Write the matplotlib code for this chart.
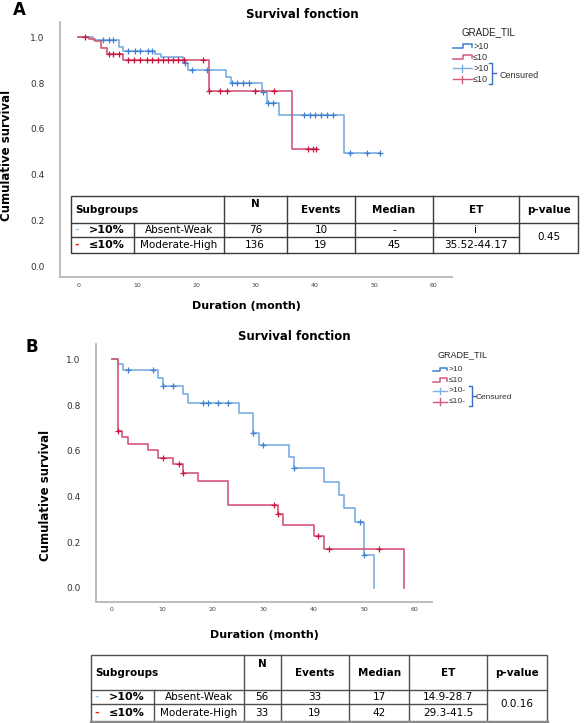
import matplotlib
matplotlib.use("Agg")
import matplotlib.pyplot as plt
from matplotlib.lines import Line2D
import numpy as np

plt.rcParams['font.family'] = ['DejaVu Sans']

# ---------------- data ----------------
# Panel A : step times (months) and survival after each step
a_hi_t = [0, 2.5, 6.9, 7.6, 13.0, 13.9, 17.7, 18.6, 25.0, 25.9, 31.0, 31.9, 33.9, 44.9, 51.0]
a_hi_s = [1.0, 0.99, 0.956, 0.942, 0.928, 0.913, 0.888, 0.858, 0.828, 0.799, 0.759, 0.714, 0.66, 0.496, 0.496]
a_hi_c = [4.2, 5.2, 5.9, 8.4, 9.6, 10.5, 11.7, 12.4, 18.0, 19.2, 21.7, 26.0, 26.9, 27.9, 28.9,
          31.3, 32.1, 33.0, 38.1, 39.1, 40.0, 41.0, 42.0, 43.0, 46.0, 48.9, 51.0]
a_lo_t = [0, 1.8, 2.8, 3.9, 4.8, 7.6, 22.1, 36.1, 40.3]
a_lo_s = [1.0, 0.993, 0.983, 0.953, 0.927, 0.902, 0.765, 0.512, 0.512]
a_lo_c = [1.1, 5.2, 5.9, 6.9, 8.4, 9.5, 10.5, 11.6, 12.4, 13.4, 14.4, 15.2, 16.0, 16.9, 17.8, 21.1,
          22.1, 24.0, 25.1, 29.9, 33.1, 38.9, 39.7, 40.2]

# Panel B
b_hi_t = [0, 1.25, 2.1, 9.1, 10.1, 14.1, 15.1, 25.1, 28.0, 29.2, 35.1, 36.0, 42.1, 45.0, 46.0, 48.1, 50.0, 52.0]
b_hi_s = [1.0, 0.98, 0.952, 0.919, 0.882, 0.847, 0.81, 0.766, 0.677, 0.626, 0.575, 0.523, 0.464, 0.406,
          0.348, 0.29, 0.144, 0.0]
b_hi_c = [3.1, 8.1, 10.1, 12.0, 18.0, 19.0, 21.0, 23.1, 28.0, 30.0, 36.0, 49.1, 50.0]
b_lo_t = [0, 1.1, 1.9, 3.1, 7.1, 9.1, 12.0, 14.1, 17.0, 23.1, 33.0, 34.0, 40.1, 42.1, 57.9]
b_lo_s = [1.0, 0.686, 0.66, 0.628, 0.603, 0.57, 0.541, 0.505, 0.468, 0.362, 0.322, 0.275, 0.228, 0.172, 0.0]
b_lo_c = [1.1, 10.1, 13.2, 14.1, 32.1, 33.0, 40.9, 43.1, 53.0]

y_ticks = [0.0, 0.2, 0.4, 0.6, 0.8, 1.0]
x_ticks = [0, 10, 20, 30, 40, 50, 60]

table_header = ["Subgroups", "N", "Events", "Median", "ET", "p-value"]
groups = [">10%", "≤10%"]
group_desc = ["Absent-Weak", "Moderate-High"]
tabA_N = ["76", "136"]
tabA_events = ["10", "19"]
tabA_median = ["-", "45"]
tabA_et = ["i", "35.52-44.17"]
tabA_p = "0.45"
tabB_N = ["56", "33"]
tabB_events = ["33", "19"]
tabB_median = ["17", "42"]
tabB_et = ["14.9-28.7", "29.3-41.5"]
tabB_p = "0.0.16"

legend_labels_A = [">10", "≤10", ">10", "≤10"]
legend_labels_B = [">10", "≤10", ">10-", "≤10-"]

# ---------------- style ----------------
W, H = 585, 723
fig = plt.figure(figsize=(5.85, 7.23), dpi=100)

def fx(px):
    return px / W

def fy(py):
    return 1 - py / H

BLUE = '#7aaee3'
BLUE_M = '#3f7fd0'
RED = '#d4577a'
RED_M = '#c8163f'
SPINE = '#b8b8b8'

def level_at(t, s, c):
    t = np.asarray(t); s = np.asarray(s)
    idx = np.searchsorted(t, c, side='right') - 1
    return s[idx]

def make_axes(rect_px, xlim, ylim):
    l, t, r, b = rect_px
    ax = fig.add_axes([fx(l), fy(b), fx(r) - fx(l), fy(t) - fy(b)])
    ax.set_xlim(*xlim)
    ax.set_ylim(*ylim)
    for sp in ['top', 'right']:
        ax.spines[sp].set_visible(False)
    for sp in ['left', 'bottom']:
        ax.spines[sp].set_color(SPINE)
        ax.spines[sp].set_linewidth(1.3)
    ax.set_yticks(y_ticks)
    ax.set_yticklabels([f"{v:.1f}" for v in y_ticks])
    ax.set_xticks(x_ticks)
    ax.set_xticklabels([str(v) for v in x_ticks])
    ax.tick_params(axis='y', length=0, pad=11, labelsize=6.5, labelcolor='#333333')
    ax.tick_params(axis='x', length=0, pad=4, labelsize=4.5, labelcolor='#444444')
    ax.patch.set_alpha(0)
    return ax

def draw_curves(ax, data):
    for t, s, c, col, mcol in data:
        ax.step(t, s, where='post', color=col, lw=1.2, zorder=3)
        ax.plot(c, level_at(t, s, c), linestyle='none', marker='+', markersize=5,
                markeredgewidth=0.9, color=mcol, zorder=4)

# Panel A
axA = make_axes((60, 21.7, 452, 277.3), (-3.1, 63.2), (-0.049, 1.068))
draw_curves(axA, [(a_hi_t, a_hi_s, a_hi_c, BLUE, BLUE_M),
                  (a_lo_t, a_lo_s, a_lo_c, RED, RED_M)])

# Panel B
axB = make_axes((95.7, 344, 431.7, 601.7), (-3.23, 63.4), (-0.06, 1.067))
draw_curves(axB, [(b_hi_t, b_hi_s, b_hi_c, BLUE, BLUE_M),
                  (b_lo_t, b_lo_s, b_lo_c, RED, RED_M)])

# Titles / labels
def ftext(px, py, s, **kw):
    fig.text(fx(px), fy(py), s, **kw)

ftext(19, 10, "A", fontsize=12, fontweight='bold', ha='center', va='center')
ftext(32, 347, "B", fontsize=12, fontweight='bold', ha='center', va='center')
ftext(302, 14, "Survival fonction", fontsize=8.5, fontweight='bold', ha='center', va='center')
ftext(294, 337, "Survival fonction", fontsize=8.5, fontweight='bold', ha='center', va='center')
ftext(7, 155, "Cumulative survival", fontsize=8.5, fontweight='bold', ha='center', va='center', rotation=90)
ftext(46, 495, "Cumulative survival", fontsize=8.5, fontweight='bold', ha='center', va='center', rotation=90)
ftext(246, 306, "Duration (month)", fontsize=8, fontweight='bold', ha='center', va='center')
ftext(264, 635, "Duration (month)", fontsize=8, fontweight='bold', ha='center', va='center')

def fline(xs, ys, **kw):
    fig.add_artist(Line2D([fx(x) for x in xs], [fy(y) for y in ys],
                          transform=fig.transFigure, **kw))

# Legends
def legend(title_xy, sym_x0, sym_x1, text_x, ys, labels, brace_x, brace_y0, brace_y1, cens_xy, fs):
    ftext(title_xy[0], title_xy[1], "GRADE_TIL", fontsize=fs + 0.5, ha='center', va='center',
          color='#222222', family=['Liberation Sans', 'DejaVu Sans'])
    cols = [BLUE_M, RED, BLUE, RED]
    for i, (y, lab) in enumerate(zip(ys, labels)):
        if i < 2:
            xm = sym_x0 + 0.55 * (sym_x1 - sym_x0)
            fline([sym_x0, xm, xm, sym_x1, sym_x1], [y + 1.5, y + 1.5, y - 2.5, y - 2.5, y + 0.5],
                  color=cols[i], lw=1.1)
        else:
            xm = (sym_x0 + sym_x1) / 2
            fline([sym_x0, sym_x1], [y, y], color=cols[i], lw=1.0)
            fline([xm, xm], [y - 3.5, y + 3.5], color=cols[i], lw=1.0)
        ftext(text_x, y, lab, fontsize=fs, ha='left', va='center', color='#333333',
              family=['Liberation Sans', 'DejaVu Sans'])
    ym = (brace_y0 + brace_y1) / 2
    fline([brace_x - 3, brace_x, brace_x, brace_x - 3], [brace_y0, brace_y0, brace_y1, brace_y1],
          color='#3a6fc4', lw=1.0)
    fline([brace_x, brace_x + 4], [ym, ym], color='#3a6fc4', lw=1.0)
    ftext(cens_xy[0], cens_xy[1], "Censured", fontsize=fs, ha='left', va='center', color='#333333',
          family=['Liberation Sans', 'DejaVu Sans'])

legend((488, 31.7), 453, 471.7, 473, [46.7, 57.5, 68.3, 79], legend_labels_A,
       492, 63, 83.5, (500, 75.5), 6.5)
legend((462.5, 355), 432.7, 446.7, 448.3, [370, 380.7, 391, 401.7], legend_labels_B,
       472, 386, 406, (476, 397.5), 6.0)

# Tables
def table(L, R, T, HB, RD, B, cols, sub, ny, hy, r1y, r2y, Ns, evs, meds, ets, pval,
          grp_x, dash_x, lw_col, bottom_thick=False):
    c = lw_col
    fig.add_artist(plt.Rectangle((fx(L), fy(B)), fx(R) - fx(L), fy(T) - fy(B),
                                 transform=fig.transFigure, facecolor='white', edgecolor=c, lw=1.0,
                                 zorder=5))
    fline([L, R], [HB, HB], color=c, lw=1.0, zorder=6)
    fline([L, cols[-1]], [RD, RD], color=c, lw=1.0, zorder=6)
    for x in cols:
        fline([x, x], [T, B], color=c, lw=1.0, zorder=6)
    fline([sub, sub], [HB, B], color=c, lw=1.0, zorder=6)
    if bottom_thick:
        fline([L, R], [B, B], color='#8a8a8a', lw=2.5, zorder=6)
    kw = dict(fontsize=7.5, fontweight='bold', va='center', zorder=7)
    edges = [L] + cols + [R]
    centers = [(edges[i] + edges[i + 1]) / 2 for i in range(len(edges) - 1)]
    ftext(L + 4, hy, table_header[0], ha='left', **kw)
    ftext(centers[1], ny, table_header[1], ha='center', **kw)
    for i in range(2, 6):
        ftext(centers[i], hy, table_header[i], ha='center', **kw)
    dash_cols = ['#9cc8ee', '#e0201b']
    subc = (sub + cols[0]) / 2
    for r, y in enumerate([r1y, r2y]):
        ftext(dash_x, y, "-", fontsize=8, fontweight='bold', ha='center', va='center',
              color=dash_cols[r], zorder=7)
        ftext(grp_x, y, groups[r], fontsize=8, fontweight='bold', ha='center', va='center', zorder=7)
        ftext(subc, y, group_desc[r], fontsize=7.5, ha='center', va='center', zorder=7)
        for i, vals in zip(range(1, 5), [Ns, evs, meds, ets]):
            ftext(centers[i], y, vals[r], fontsize=7.5, ha='center', va='center', zorder=7)
    ftext(centers[5], RD, pval, fontsize=7.5, ha='center', va='center', zorder=7)

table(70.9, 578.4, 195.7, 222.7, 237.3, 252.7, [223.9, 286.6, 355.2, 432.8, 518.7], 133.6,
      204, 210, 230, 245, tabA_N, tabA_events, tabA_median, tabA_et, tabA_p,
      107, 76.5, '#3c3c3c')
table(91.4, 546.6, 655, 690, 704.3, 721.7, [243.7, 280.6, 348.9, 409.3, 487], 153.7,
      664, 673, 697.2, 713, tabB_N, tabB_events, tabB_median, tabB_et, tabB_p,
      127, 97, '#505050', bottom_thick=True)

fig.savefig("out.png", dpi=100)
